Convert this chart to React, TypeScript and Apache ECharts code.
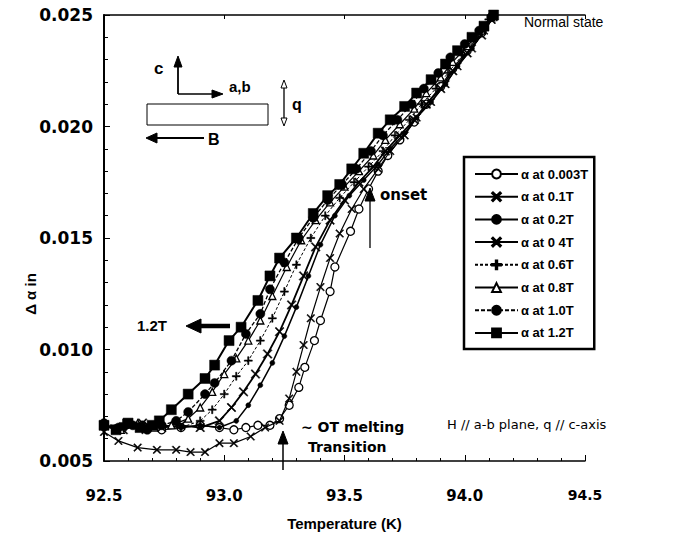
import React, { useEffect, useRef } from "react";
import * as echarts from "echarts";

// ---------- data ----------
const xTicks = [92.5, 93.0, 93.5, 94.0, 94.5];
const yTicks = [0.005, 0.01, 0.015, 0.02, 0.025];

const legendNames = [
  "α at 0.003T",
  "α at 0.1T",
  "α at 0.2T",
  "α at 0 4T",
  "α at 0.6T",
  "α at 0.8T",
  "α at 1.0T",
  "α at 1.2T",
];

const t0003 = [92.5, 92.58, 92.66, 92.74, 92.82, 92.9, 92.98, 93.04, 93.09, 93.14, 93.19, 93.23, 93.27, 93.31, 93.335, 93.375, 93.4, 93.44, 93.46, 93.525, 93.56, 93.6, 93.64, 93.68, 93.73, 93.79, 93.84, 93.9, 93.95, 94.01, 94.07, 94.12];
const v0003 = [0.0066, 0.0065, 0.0066, 0.0064, 0.0065, 0.0066, 0.0065, 0.0064, 0.0065, 0.0066, 0.0066, 0.0069, 0.0075, 0.0083, 0.0092, 0.0104, 0.0113, 0.0126, 0.0137, 0.0153, 0.0163, 0.0172, 0.018, 0.0187, 0.0194, 0.0202, 0.021, 0.0218, 0.0226, 0.0234, 0.0242, 0.025];

const t01 = [92.5, 92.56, 92.64, 92.72, 92.8, 92.86, 92.92, 92.98, 93.04, 93.11, 93.17, 93.23, 93.27, 93.3, 93.33, 93.36, 93.4, 93.44, 93.48, 93.53, 93.58, 93.64, 93.69, 93.75, 93.8, 93.86, 93.92, 93.97, 94.03, 94.08, 94.12];
const v01 = [0.0063, 0.0059, 0.0056, 0.0055, 0.0055, 0.0054, 0.0054, 0.0058, 0.0058, 0.0061, 0.0065, 0.0068, 0.0078, 0.009, 0.0102, 0.0114, 0.0128, 0.0141, 0.0152, 0.0163, 0.0172, 0.0181, 0.0189, 0.0196, 0.0204, 0.0211, 0.0219, 0.0227, 0.0235, 0.0243, 0.0249];

const t02 = [92.5, 92.58, 92.66, 92.74, 92.82, 92.9, 92.98, 93.05, 93.1, 93.15, 93.2, 93.25, 93.3, 93.35, 93.4, 93.46, 93.52, 93.58, 93.64, 93.69, 93.75, 93.8, 93.86, 93.92, 93.97, 94.03, 94.08, 94.12];
const v02 = [0.0065, 0.0066, 0.0064, 0.0066, 0.0065, 0.0066, 0.0065, 0.0068, 0.0075, 0.0084, 0.0094, 0.0106, 0.0119, 0.0133, 0.0147, 0.016, 0.0169, 0.0176, 0.0183, 0.019, 0.0197, 0.0204, 0.0211, 0.0219, 0.0227, 0.0235, 0.0243, 0.0249];

const t04 = [92.5, 92.58, 92.66, 92.74, 92.82, 92.9, 92.98, 93.03, 93.08, 93.13, 93.18, 93.23, 93.28, 93.33, 93.38, 93.44, 93.5, 93.56, 93.62, 93.67, 93.73, 93.79, 93.84, 93.9, 93.95, 94.01, 94.07, 94.11];
const v04 = [0.0066, 0.0064, 0.0067, 0.0065, 0.0066, 0.0065, 0.0068, 0.0074, 0.0081, 0.0089, 0.0098, 0.0108, 0.012, 0.0133, 0.0146, 0.0158, 0.0167, 0.0175, 0.0182, 0.0189, 0.0196, 0.0203, 0.021, 0.0217, 0.0225, 0.0233, 0.0241, 0.0248];

const t06 = [92.5, 92.58, 92.66, 92.74, 92.82, 92.9, 92.95, 93.0, 93.05, 93.1, 93.15, 93.2, 93.25, 93.3, 93.36, 93.42, 93.48, 93.54, 93.6, 93.66, 93.71, 93.77, 93.82, 93.88, 93.93, 93.99, 94.05, 94.1];
const v06 = [0.0065, 0.0067, 0.0064, 0.0066, 0.0065, 0.0068, 0.0073, 0.008, 0.0088, 0.0095, 0.0104, 0.0114, 0.0126, 0.0138, 0.015, 0.016, 0.0168, 0.0175, 0.0182, 0.0189, 0.0196, 0.0203, 0.021, 0.0217, 0.0224, 0.0232, 0.024, 0.0248];

const t08 = [92.5, 92.57, 92.64, 92.71, 92.78, 92.85, 92.9, 92.95, 93.0, 93.05, 93.1, 93.15, 93.2, 93.26, 93.32, 93.38, 93.44, 93.5, 93.56, 93.62, 93.67, 93.73, 93.79, 93.84, 93.9, 93.95, 94.01, 94.07, 94.11];
const v08 = [0.0066, 0.0064, 0.0067, 0.0065, 0.0066, 0.0069, 0.0074, 0.0081, 0.0089, 0.0096, 0.0104, 0.0113, 0.0124, 0.0137, 0.0149, 0.0158, 0.0166, 0.0173, 0.018, 0.0187, 0.0194, 0.0201, 0.0208, 0.0215, 0.0222, 0.0229, 0.0236, 0.0243, 0.0249];

const t10 = [92.5, 92.56, 92.62, 92.68, 92.74, 92.8, 92.85, 92.92, 92.96, 93.03, 93.09, 93.15, 93.19, 93.25, 93.31, 93.37, 93.43, 93.49, 93.55, 93.61, 93.66, 93.72, 93.78, 93.83, 93.89, 93.94, 94.0, 94.06, 94.11];
const v10 = [0.0067, 0.0065, 0.0066, 0.0064, 0.0066, 0.0068, 0.0072, 0.008, 0.0085, 0.0095, 0.0107, 0.0116, 0.0127, 0.0139, 0.015, 0.0159, 0.0167, 0.0174, 0.0181, 0.0189, 0.0196, 0.0203, 0.021, 0.0217, 0.0224, 0.0231, 0.0237, 0.0243, 0.0249];

const t12 = [92.5, 92.55, 92.6, 92.65, 92.7, 92.73, 92.78, 92.85, 92.92, 92.96, 93.02, 93.07, 93.14, 93.19, 93.23, 93.3, 93.37, 93.43, 93.48, 93.53, 93.58, 93.64, 93.69, 93.75, 93.8, 93.86, 93.92, 93.97, 94.03, 94.08, 94.12];
const v12 = [0.0066, 0.0064, 0.0067, 0.0065, 0.0066, 0.0068, 0.0073, 0.008, 0.0087, 0.0093, 0.0104, 0.011, 0.0122, 0.0133, 0.0141, 0.015, 0.0161, 0.0169, 0.0174, 0.0181, 0.0188, 0.0197, 0.0203, 0.0209, 0.0215, 0.0221, 0.0228, 0.0234, 0.024, 0.0245, 0.025];

const seriesT = [t0003, t01, t02, t04, t06, t08, t10, t12];
const seriesV = [v0003, v01, v02, v04, v06, v08, v10, v12];

// ---------- styles ----------
const XSYM = "path://M0,1L1,0L5,4L9,0L10,1L6,5L10,9L9,10L5,6L1,10L0,9L4,5Z";
const PLUS = "path://M4.2,0H5.8V4.2H10V5.8H5.8V10H4.2V5.8H0V4.2H4.2Z";

const styles = [
  { symbol: "circle", size: 8, fill: "#fff", lw: 1.2, type: "solid" },
  { symbol: XSYM, size: 8, fill: "#000", lw: 1.2, type: "solid" },
  { symbol: "circle", size: 5, fill: "#000", lw: 1.5, type: "solid" },
  { symbol: XSYM, size: 9, fill: "#000", lw: 1.8, type: "solid" },
  { symbol: PLUS, size: 8, fill: "#000", lw: 1, type: [3, 2] },
  { symbol: "triangle", size: 7, fill: "#fff", lw: 1.2, type: "solid" },
  { symbol: "circle", size: 9, fill: "#000", lw: 1.3, type: [4, 2] },
  { symbol: "rect", size: 10, fill: "#000", lw: 2, type: "solid" },
];

const FONT = "'Liberation Sans', Arial, Helvetica, sans-serif";
const WIDE = "'DejaVu Sans', Verdana, sans-serif";

export default function App() {
  const ref = useRef<HTMLDivElement>(null);
  useEffect(() => {
    if (!ref.current) return;
    const chart = echarts.init(ref.current, null, { renderer: "svg" });
    const series = legendNames.map((name, i) => {
      const st = styles[i];
      return {
        name,
        type: "line",
        xAxisIndex: 0,
        yAxisIndex: 0,
        data: seriesT[i].map((t, j) => [t, seriesV[i][j]]),
        symbol: st.symbol,
        symbolSize: st.size,
        showAllSymbol: true,
        clip: false,
        lineStyle: { color: "#000", width: st.lw, type: st.type },
        itemStyle: {
          color: st.fill,
          borderColor: "#000",
          borderWidth: st.fill === "#fff" ? 1.3 : 0.5,
        },
        z: 3 + i,
      };
    });

    const txt = (x: number, y: number, text: string, font: string) => ({
      type: "text",
      x,
      y,
      style: { text, fill: "#000", font },
      z: 50,
    });
    const ln = (x1: number, y1: number, x2: number, y2: number, w = 1.5) => ({
      type: "line",
      shape: { x1, y1, x2, y2 },
      style: { stroke: "#000", lineWidth: w },
      z: 50,
    });
    const poly = (pts: number[][], fill = "#000") => ({
      type: "polygon",
      shape: { points: pts },
      style: { fill, stroke: "#000", lineWidth: 1 },
      z: 51,
    });

    const graphic = [
      {
        type: "text",
        x: 30,
        y: 294,
        rotation: Math.PI / 2,
        style: {
          text: "Δ α in",
          fill: "#000",
          font: `bold 15px ${FONT}`,
          align: "center",
          verticalAlign: "middle",
        },
        z: 50,
      },
      // inset
      txt(154, 60, "c", `bold 17px ${FONT}`),
      ln(178, 94, 178, 64, 1.8),
      poly([[174, 67], [178, 56], [182, 67]]),
      ln(178, 94, 216, 94, 1.5),
      poly([[212, 90], [223, 94], [212, 98]]),
      txt(229, 79, "a,b", `bold 15px ${FONT}`),
      {
        type: "rect",
        shape: { x: 147, y: 104, width: 121, height: 21 },
        style: { fill: "none", stroke: "#000", lineWidth: 1 },
        z: 50,
      },
      ln(284, 86, 284, 120, 1.3),
      poly([[281, 88], [284, 80], [287, 88]], "#fff"),
      poly([[281, 118], [284, 126], [287, 118]], "#fff"),
      txt(292, 96, "q", `bold 16px ${FONT}`),
      ln(204, 138, 154, 138, 2.2),
      poly([[157, 133], [146, 138], [157, 143]]),
      txt(208, 131, "B", `bold 16px ${FONT}`),
      // Normal state
      txt(524, 15, "Normal state", `14px ${FONT}`),
      // onset
      ln(370, 248, 370, 198, 1.3),
      poly([[365, 201], [370, 188], [375, 201]]),
      txt(380, 187, "onset", `bold 15px ${WIDE}`),
      // 1.2T
      txt(137, 318, "1.2T", `bold 15px ${FONT}`),
      ln(230, 326, 196, 326, 4.5),
      poly([[201, 319], [186, 326], [201, 333]]),
      // melting
      ln(283, 470, 283, 442, 1.5),
      poly([[278, 444], [283, 431], [288, 444]]),
      txt(301, 420, "~ OT melting", `bold 14px ${WIDE}`),
      txt(308, 440, "Transition", `bold 14px ${WIDE}`),
      txt(447, 418, "H // a-b plane, q // c-axis", `13px ${WIDE}`),
    ];

    chart.setOption({
      animation: false,
      backgroundColor: "#fff",
      textStyle: { fontFamily: FONT },
      grid: { left: 104, right: 106, top: 15, bottom: 76, containLabel: false },
      legend: {
        show: true,
        data: legendNames,
        orient: "vertical",
        left: 464,
        top: 157,
        padding: [10, 6, 9, 10],
        itemWidth: 43,
        itemHeight: 11,
        itemGap: 8.7,
        borderColor: "#000",
        borderWidth: 2.5,
        backgroundColor: "#fff",
        selectedMode: false,
        textStyle: {
          fontFamily: FONT,
          fontWeight: "bold",
          fontSize: 13,
          lineHeight: 14,
          color: "#000",
          padding: [0, 0, 0, -2],
        },
      },
      xAxis: [
        {
          type: "value",
          min: 92.5,
          max: 94.5,
          interval: 0.5,
          position: "bottom",
          name: "Temperature (K)",
          nameLocation: "middle",
          nameGap: 55,
          nameTextStyle: { fontFamily: FONT, fontWeight: "bold", fontSize: 15, color: "#000" },
          axisLine: { show: true, lineStyle: { color: "#000", width: 1.5 } },
          axisTick: { show: true, inside: true, length: 6, lineStyle: { color: "#000" } },
          minorTick: { show: true, splitNumber: 5, length: 3, lineStyle: { color: "#000" } },
          splitLine: { show: false },
          axisLabel: {
            margin: 27,
            color: "#000",
            fontFamily: WIDE,
            fontWeight: "bold",
            fontSize: 15,
            formatter: (v: number) =>
              Math.abs(v - 94.5) < 1e-6 ? "{r|" + v.toFixed(1) + "}" : v.toFixed(1),
            rich: { r: { fontFamily: WIDE, fontSize: 14, padding: [0, 0, 10, 0], color: "#000" } },
          },
        },
        {
          type: "value",
          min: 92.5,
          max: 94.5,
          interval: 0.5,
          position: "top",
          axisLine: { show: true, lineStyle: { color: "#000", width: 1.5 } },
          axisTick: { show: true, inside: true, length: 4, lineStyle: { color: "#000" } },
          axisLabel: { show: false },
          splitLine: { show: false },
        },
      ],
      yAxis: {
        type: "value",
        min: 0.005,
        max: 0.025,
        interval: 0.005,
        axisLine: { show: true, lineStyle: { color: "#000", width: 2 } },
        axisTick: { show: true, inside: true, length: 6, lineStyle: { color: "#000" } },
        minorTick: { show: true, splitNumber: 5, length: 4, lineStyle: { color: "#000" } },
        splitLine: { show: false },
        axisLabel: {
          margin: 11,
          color: "#000",
          fontFamily: WIDE,
          fontWeight: "bold",
          fontSize: 17,
          formatter: (v: number) => v.toFixed(3),
        },
      },
      series,
      graphic,
    });
    return () => chart.dispose();
  }, []);
  return (
    <div
      ref={ref}
      style={{ position: "absolute", left: 0, top: 0, width: 691, height: 537, background: "#fff" }}
    />
  );
}
